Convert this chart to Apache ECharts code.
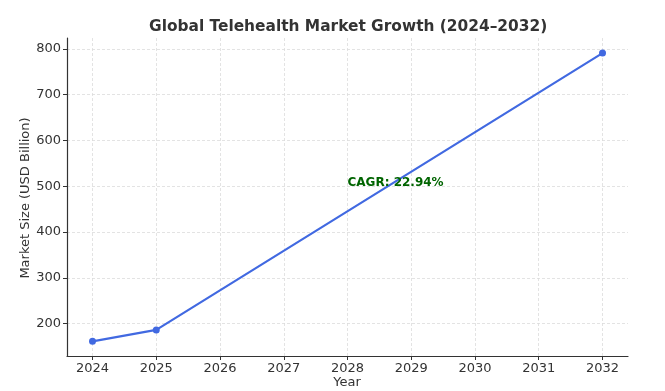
<!DOCTYPE html>
<html><head><meta charset="utf-8">
<script src="https://cdn.jsdelivr.net/npm/echarts@6/dist/echarts.min.js"></script>
<style>html,body{margin:0;padding:0;background:#fff}#c{width:665px;height:391px}</style>
</head><body><div id="c"></div>
<script>
const years = [2024, 2025, 2032];
const marketSize = [161, 186, 791];
const xTicks = [2024, 2025, 2026, 2027, 2028, 2029, 2030, 2031, 2032];
const yTicks = [200, 300, 400, 500, 600, 700, 800];
const annotation = { x: 2028, y: 500, text: 'CAGR: 22.94%' };
const xName = 'Year';
const yName = 'Market Size (USD Billion)';

const font = 'DejaVu Sans';
const chart = echarts.init(document.getElementById('c'), null, {renderer: 'canvas'});
const splitStyle = {show: true, lineStyle: {color: '#dcdcdc', type: [3, 2], width: 0.8}};
chart.setOption({
  animation: false,
  title: {text: 'Global Telehealth Market Growth (2024\u20132032)', left: 144, top: 14,
    textStyle: {fontFamily: font, fontSize: 15.4, fontWeight: 'bold', color: '#333'}},
  grid: {left: 67, right: 37, top: 38, bottom: 35, containLabel: false, outerBoundsMode: 'none'},
  graphic: [
    {type: 'text', x: 347, y: 383, style: {text: xName, font: '13px "DejaVu Sans"', fill: '#333', align: 'center', verticalAlign: 'middle'}},
    {type: 'text', x: 26, y: 198, rotation: Math.PI / 2, style: {text: yName, font: '13px "DejaVu Sans"', fill: '#333', align: 'center', verticalAlign: 'middle'}}
  ],
  xAxis: {type: 'value', min: 2023.6, max: 2032.4,
    axisLine: {show: true, onZero: false, lineStyle: {color: '#333', width: 1.2}},
    axisTick: {show: true, customValues: xTicks, length: 4, lineStyle: {color: '#333'}},
    axisLabel: {customValues: xTicks, formatter: v => String(v), fontFamily: font, fontSize: 13, color: '#333', margin: 6},
    splitLine: splitStyle
  },
  yAxis: {type: 'value', min: 129, max: 824,
    axisLine: {show: true, onZero: false, lineStyle: {color: '#333', width: 1.2}},
    axisTick: {show: true, customValues: yTicks, length: 4, lineStyle: {color: '#333'}},
    axisLabel: {customValues: yTicks, fontFamily: font, fontSize: 13, color: '#333', margin: 6},
    splitLine: splitStyle
  },
  series: [{
    type: 'line',
    data: years.map((y, i) => [y, marketSize[i]]),
    symbol: 'circle', symbolSize: 7,
    lineStyle: {color: '#4169e1', width: 2.2},
    itemStyle: {color: '#4169e1'},
    markPoint: {
      symbol: 'circle', symbolSize: 0,
      data: [{coord: [annotation.x, annotation.y]}],
      label: {show: true, formatter: annotation.text, position: 'right', distance: 0,
        offset: [0, -3.5], align: 'left', verticalAlign: 'middle',
        fontFamily: font, fontSize: 12, fontWeight: 'bold', color: '#006400'}
    }
  }]
});
</script></body></html>
